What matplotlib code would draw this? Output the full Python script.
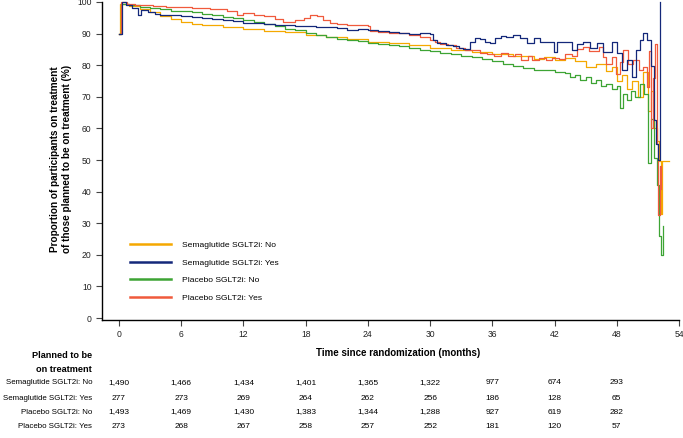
import matplotlib
matplotlib.use("Agg")
import matplotlib.pyplot as plt
from matplotlib.lines import Line2D
from matplotlib.transforms import blended_transform_factory

plt.rcParams['font.family'] = ['Liberation Sans', 'DejaVu Sans']

# curves (months, % on treatment)
sema_no_t = [0, 0.1, 1, 2, 3, 4, 5, 6, 7, 8, 10, 12, 14, 16, 18, 20, 22, 24, 26, 28, 30, 32, 34, 36, 38,
             40, 41, 42, 43, 44, 45, 46, 47, 47.5, 48, 48.5, 49, 49.5, 50, 50.5, 51, 51.3, 51.6, 51.9,
             52.1, 52.25, 52.4, 53.0]
sema_no_v = [90, 99.5, 98.8, 97.8, 96.8, 95.6, 94.5, 93.8, 93.1, 92.8, 92.2, 91.4, 90.9, 90.4, 89.6, 89.0,
             88.3, 87.5, 87.0, 86.3, 85.3, 84.7, 84.1, 83.5, 83.0, 82.0, 82.6, 81.6, 82.3, 81.4, 79.3, 80.5,
             78.2, 79.5, 75.0, 77.0, 72.5, 75.0, 70.0, 78.0, 65.5, 72.0, 60.0, 56.0, 49.7, 33.0, 49.7, 49.7]

sema_yes_t = [0, 0.3, 0.7, 1.3, 1.8, 2.1, 2.8, 3.5, 4, 5, 6, 7, 8, 9, 10, 11, 12, 13, 14, 15, 16, 17, 18,
              19, 20, 21, 22, 23, 24, 25, 26, 27, 28, 29, 30, 30.3, 30.7, 31.5, 32.2, 32.8, 33.2, 33.8,
              34.3, 34.8, 35.3, 35.8, 36.3, 36.8, 37.3, 38, 38.7, 39.3, 40, 40.6, 41.3, 41.9, 42.2, 43.3,
              43.7, 44.2, 44.7, 45.4, 46.1, 46.7, 47.5, 48, 48.5, 49, 49.5, 49.9, 50.2, 50.5, 50.9, 51.3,
              51.6, 51.8, 52.0, 52.2]
sema_yes_v = [90, 100, 99.0, 98.0, 95.9, 97.5, 96.8, 96.3, 95.9, 96.0, 95.6, 95.2, 94.9, 94.6, 94.3, 93.9,
              93.5, 93.2, 92.9, 92.7, 92.6, 92.4, 92.3, 92.2, 92.1, 91.9, 91.3, 91.6, 91.0, 90.8, 90.6, 90.3,
              89.9, 90.1, 90.0, 88.0, 86.9, 86.5, 86.1, 85.4, 85.0, 87.5, 88.5, 88.3, 87.5, 87.0, 88.5, 89.2,
              88.8, 89.5, 88.6, 87.0, 88.6, 87.5, 87.2, 84.3, 87.5, 87.5, 84.8, 86.7, 87.5, 85.4, 87.0, 84.3,
              87.5, 83.8, 78.5, 81.6, 76.4, 84.8, 88.0, 90.1, 88.0, 79.6, 62.7, 55.0, 50.0, 100.0]

plac_no_t = [0, 0.2, 1, 2, 3, 4, 5, 6, 7, 8, 9, 10, 11, 12, 13, 14, 15, 16, 17, 18, 19, 20, 21, 22, 23, 24,
             25, 26, 27, 28, 29, 30, 31, 32, 33, 34, 35, 36, 37, 38, 39, 40, 41, 42, 43, 43.5, 44, 44.5, 45,
             45.5, 46, 46.5, 47, 47.5, 48, 48.3, 48.6, 49, 49.4, 49.8, 50.2, 50.6, 51.0, 51.3, 51.6, 51.9,
             52.1, 52.3, 52.5]
plac_no_v = [90, 99.5, 99.0, 98.5, 98.1, 97.7, 97.3, 97.0, 96.7, 96.3, 95.9, 95.4, 94.9, 94.2, 93.6, 93.0,
             92.3, 91.6, 91.0, 90.3, 89.7, 89.0, 88.4, 88.1, 87.8, 87.1, 86.8, 86.4, 86.0, 85.5, 84.9, 84.4,
             84.0, 83.4, 82.9, 82.6, 81.9, 81.3, 80.4, 79.8, 79.1, 78.4, 78.6, 77.9, 77.6, 76.2, 77.0, 75.2,
             76.3, 74.5, 75.3, 73.5, 74.2, 72.4, 73.3, 66.5, 71.0, 69.0, 72.0, 70.0, 74.0, 71.0, 49.0, 63.0,
             50.6, 42.0, 26.0, 20.0, 29.0]

plac_yes_t = [0, 0.2, 0.8, 1.5, 2.3, 3.3, 4.5, 5.6, 7, 8.8, 10.4, 11.4, 12, 13, 14, 15, 15.8, 17, 17.8,
              18.4, 19.1, 19.7, 20.3, 21, 22, 23, 24, 24.2, 25, 26, 27, 28, 29, 30, 30.5, 31, 31.7, 32.5,
              33.4, 34, 34.8, 35.5, 36.2, 36.8, 37.5, 38.2, 38.8, 39.4, 39.8, 40.5, 41.2, 41.8, 42.4, 43.0,
              43.7, 44.2, 44.7, 45.3, 46.3, 46.7, 47.0, 47.5, 47.9, 48.3, 48.6, 49.1, 49.6, 50.1, 50.5,
              50.9, 51.1, 51.3, 51.5, 51.7, 51.85, 52.0, 52.15, 52.3]
plac_yes_v = [90, 100, 99.5, 99.2, 99.0, 98.7, 98.5, 98.3, 98.0, 97.7, 97.0, 96.0, 96.4, 96.0, 95.5, 94.6,
              93.8, 94.2, 95.0, 96.0, 95.5, 94.3, 93.2, 92.9, 92.7, 92.6, 92.4, 90.8, 90.5, 90.3, 90.3, 89.6,
              89.0, 88.0, 87.5, 86.8, 86.3, 85.5, 84.7, 84.9, 83.9, 83.5, 83.0, 83.8, 82.8, 83.6, 81.8, 82.8,
              81.5, 82.3, 81.5, 82.4, 82.0, 83.5, 83.0, 85.2, 85.8, 84.5, 85.8, 82.5, 80.4, 82.5, 77.2, 81.0,
              84.7, 80.5, 81.5, 78.5, 79.3, 73.0, 84.5, 60.0, 76.0, 86.8, 55.0, 32.5, 48.0, 41.0]

labels = ["Semaglutide SGLT2i: No", "Semaglutide SGLT2i: Yes", "Placebo SGLT2i: No", "Placebo SGLT2i: Yes"]
colors = ["#F5A800", "#14287A", "#3DA434", "#F05A3C"]

# numbers at risk
risk_times = [0, 6, 12, 18, 24, 30, 36, 42, 48]
risk_sema_no = ["1,490", "1,466", "1,434", "1,401", "1,365", "1,322", "977", "674", "293"]
risk_sema_yes = ["277", "273", "269", "264", "262", "256", "186", "128", "65"]
risk_plac_no = ["1,493", "1,469", "1,430", "1,383", "1,344", "1,288", "927", "619", "282"]
risk_plac_yes = ["273", "268", "267", "258", "257", "252", "181", "120", "57"]

fig = plt.figure(figsize=(6.83, 4.38), dpi=100)
ax = fig.add_axes([102 / 683, 1 - 320 / 438, 577 / 683, 318 / 438])

series = [(sema_no_t, sema_no_v), (sema_yes_t, sema_yes_v), (plac_no_t, plac_no_v), (plac_yes_t, plac_yes_v)]
for i in [0, 2, 3, 1]:
    t, v = series[i]
    ax.plot(t, v, drawstyle='steps-post', color=colors[i], lw=0.9, clip_on=False)

ax.set_xlim(-1.64, 54)
ax.set_ylim(-0.6, 100)
ax.set_xticks(range(0, 55, 6))
ax.set_yticks(range(0, 101, 10))
ax.tick_params(labelsize=6.2, length=4, width=0.8, color='#444444', labelcolor='#222222')
for s in ['top', 'right']:
    ax.spines[s].set_visible(False)
for s in ['left', 'bottom']:
    ax.spines[s].set_linewidth(1.0)

handles = [Line2D([0], [0], color=c, lw=1.8) for c in colors]
ax.legend(handles, labels, loc='lower left', bbox_to_anchor=(0.0485, 0.058), frameon=False,
          fontsize=6.1, handlelength=4.8, handletextpad=1.3, labelspacing=1.12,
          borderpad=0, borderaxespad=0)

fig.text(61 / 683, 1 - 159 / 438,
         "Proportion of participants on treatment\nof those planned to be on treatment (%)",
         rotation=90, ha='center', va='center', fontsize=7.2, fontweight='bold', multialignment='center',
         linespacing=1.25)
fig.text(398 / 683, 1 - 353 / 438, "Time since randomization (months)",
         ha='center', va='center', fontsize=7, fontweight='bold')

# table under the plot
fig.text(92 / 683, 1 - 355 / 438, "Planned to be", ha='right', va='center', fontsize=6.6, fontweight='bold')
fig.text(92 / 683, 1 - 369 / 438, "on treatment", ha='right', va='center', fontsize=6.6, fontweight='bold')
trans = blended_transform_factory(ax.transData, fig.transFigure)
rows = [risk_sema_no, risk_sema_yes, risk_plac_no, risk_plac_yes]
row_y = [383, 398, 412, 427]
for lab, row, py in zip(labels, rows, row_y):
    fig.text(92 / 683, 1 - py / 438, lab, ha='right', va='center', fontsize=5.7)
    for x, n in zip(risk_times, row):
        ax.text(x, 1 - py / 438, n, transform=trans, ha='center', va='center', fontsize=6.0)

fig.savefig("out.png", dpi=100)
